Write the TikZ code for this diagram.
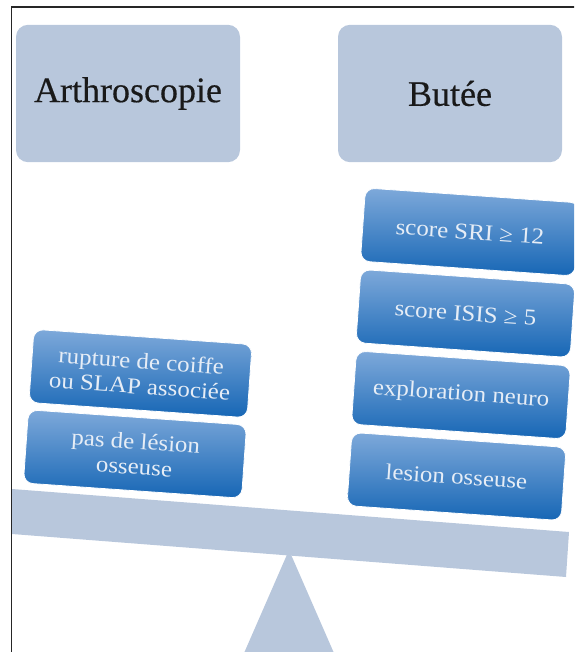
\documentclass[tikz,border=0pt]{standalone}
\usepackage{fontspec}
\setmainfont{Liberation Serif}
\newfontfamily\cardfont{Liberation Serif}[FakeStretch=1.1]
\newfontfamily\headfont{Liberation Serif}[FakeBold=0.4]
\usepackage{tikz}
\usetikzlibrary{positioning}

\definecolor{plate}{HTML}{B8C7DC}
\definecolor{cardtop}{HTML}{7EA9DA}
\definecolor{cardbot}{HTML}{1666B5}
\definecolor{cardtext}{HTML}{E6EDF6}

\begin{document}
\begin{tikzpicture}[
    x=0.75pt, y=-0.75pt,
    head/.style={rectangle, rounded corners=9pt, fill=plate, minimum width=168pt, minimum height=103pt, align=center, font=\headfont\fontsize{27}{30}\selectfont, text=black!90},
    card/.style={rectangle, rounded corners=7pt, top color=cardtop, bottom color=cardbot, draw=white, line width=0.6pt, minimum width=161pt, minimum height=55pt, align=center, text=cardtext, font=\cardfont\fontsize{17}{19}\selectfont, rotate=-4},
    plank/.style={fill=plate}
]
\useasboundingbox (0,0) rectangle (574,652);
\clip (0,0) rectangle (574,652);

% Frame
\draw[line width=0.9pt, black!85] (11.5,660) -- (11.5,7) -- (580,7);

% Headings
\node[head] (arthro) at (128,93.5) {Arthroscopie};
\node[head] (butee) at (450,93.5) {Butée};

% Balance
\fill[plank] (12,489) -- (569,532) -- (566,577) -- (12,534) -- cycle;
\fill[plank] (289,550) -- (337,660) -- (241,660) -- cycle;

% Left pan
\node[card, minimum width=164pt] (coiffe) at (140.5,373.5) {rupture de coiffe\\ou SLAP associée};
\node[card, minimum width=164pt] (lesion) at (135,454) {pas de lésion\\osseuse};

% Right pan
\node[card] (sri) at (470,232) {score SRI ≥ 12};
\node[card] (isis) at (465.5,313.5) {score ISIS ≥ 5};
\node[card] (neuro) at (461,395) {exploration neuro};
\node[card] (osseuse) at (456.5,476.5) {lesion osseuse};

\end{tikzpicture}
\end{document}
